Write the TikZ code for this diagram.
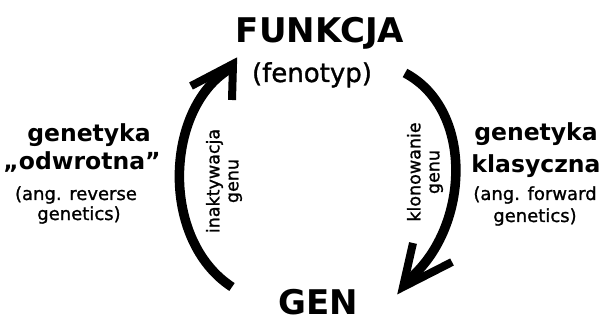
\documentclass[tikz,border=0pt]{standalone}
\usepackage{fontspec}
\setmainfont{DejaVu Sans}
\newfontfamily\medfont[FakeBold=1.2]{DejaVu Sans}
\begin{document}
\begin{tikzpicture}[x=1pt,y=-1pt,
  title/.style={font=\bfseries\fontsize{34}{40}\selectfont, inner sep=0pt, anchor=base},
  subtitle/.style={font=\medfont\fontsize{26}{30}\selectfont, inner sep=0pt, anchor=base},
  side/.style={font=\bfseries\fontsize{23.5}{28}\selectfont, inner sep=0pt, anchor=base},
  note/.style={font=\medfont\fontsize{18}{20}\selectfont, inner sep=0pt, anchor=base},
  vlabel/.style={font=\medfont\fontsize{17.5}{19}\selectfont, inner sep=0pt, rotate=90, align=center},
  arc/.style={line width=9.5pt, line cap=butt},
  head/.style={line width=8pt, line join=miter, line cap=butt}]
\useasboundingbox (0,0) rectangle (606,321);

% main terms
\node[title] (funkcja) at (320,43) {FUNKCJA};
\node[subtitle] (fenotyp) at (312,82) {(fenotyp)};
\node[title] (gen) at (318,314) {GEN};

% reverse genetics (left)
\node[side] (lg1) at (89,142) {genetyka};
\node[side] (lg2) at (82,170) {„odwrotna”};
\node[note] (lg3) at (76,200) {(ang. reverse};
\node[note] (lg4) at (79,220) {genetics)};

% forward genetics (right)
\node[side] (rg1) at (536,140) {genetyka};
\node[side] (rg2) at (536,172) {klasyczna};
\node[note] (rg3) at (535,200) {(ang. forward};
\node[note] (rg4) at (535,222) {genetics)};

% labels along the arrows
\node[vlabel] (inakt) at (224,181) {inaktywacja\\genu};
\node[vlabel] (klon) at (425,172) {klonowanie\\genu};

% left arrow: GEN -> FUNKCJA
\coordinate (lstart) at (232,287);
\coordinate (lend) at (228,70);
\coordinate (ltip) at (233,64);
\coordinate (lwing1) at (191,86);
\coordinate (lwing2) at (232,100);
\draw[arc] (lstart) .. controls (160,240) and (165,110) .. (lend);
\draw[head] (lwing1) -- (ltip) -- (lwing2);

% right arrow: FUNKCJA -> GEN
\coordinate (rstart) at (405,73);
\coordinate (rend) at (407,281);
\coordinate (rtip) at (403,287);
\coordinate (rwing1) at (413,243);
\coordinate (rwing2) at (452,262);
\draw[arc] (rstart) .. controls (475,110) and (470,230) .. (rend);
\draw[head] (rwing1) -- (rtip) -- (rwing2);
\end{tikzpicture}
\end{document}
